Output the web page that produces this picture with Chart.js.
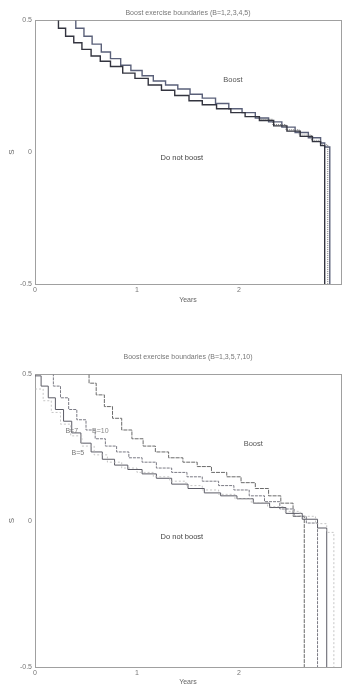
<!DOCTYPE html>
<html>
<head>
<meta charset="utf-8">
<script src="https://cdn.jsdelivr.net/npm/chart.js@4/dist/chart.umd.min.js"></script>
<style>
  html, body { margin: 0; padding: 0; background: #fff; }
  body { width: 347px; height: 687px; position: relative; overflow: hidden; }
  canvas { position: absolute; left: 0; }
  #top { top: 0; }
  #bottom { top: 345px; }
</style>
</head>
<body>
<canvas id="top" width="347" height="305"></canvas>
<canvas id="bottom" width="347" height="342"></canvas>
<script>
// axes
const yearTicks = [0, 1, 2];
const sTicks = [-0.5, 0, 0.5];

// chart 1 : B = 1..5 (the curves mostly sit on top of each other)
const lowT = [0.17, 0.23, 0.30, 0.38, 0.46, 0.55, 0.64, 0.74, 0.86, 0.98, 1.11, 1.24, 1.37, 1.51, 1.64, 1.78, 1.92, 2.06, 2.20, 2.34, 2.47, 2.60, 2.72, 2.80, 2.84];
const lowS = [0.51, 0.47, 0.44, 0.415, 0.39, 0.365, 0.345, 0.325, 0.30, 0.28, 0.255, 0.235, 0.215, 0.195, 0.18, 0.165, 0.15, 0.135, 0.12, 0.10, 0.08, 0.06, 0.04, 0.025, -0.5];
const midT = [2.20, 2.33, 2.46, 2.59, 2.71, 2.80, 2.87];
const midS = [0.125, 0.105, 0.085, 0.065, 0.045, 0.028, -0.5];
const highT = [0.33, 0.40, 0.48, 0.56, 0.65, 0.74, 0.84, 0.94, 1.05, 1.16, 1.28, 1.40, 1.52, 1.64, 1.77, 1.90, 2.03, 2.16, 2.29, 2.42, 2.55, 2.68, 2.80, 2.84, 2.89];
const highS = [0.51, 0.47, 0.44, 0.41, 0.38, 0.355, 0.33, 0.31, 0.29, 0.27, 0.255, 0.24, 0.22, 0.205, 0.185, 0.165, 0.15, 0.13, 0.115, 0.095, 0.075, 0.055, 0.035, 0.02, -0.5];

// chart 2 : B = 3, 5, 7, 10
const b3T = [0.00, 0.08, 0.16, 0.25, 0.35, 0.46, 0.58, 0.71, 0.85, 1.00, 1.16, 1.32, 1.48, 1.64, 1.80, 1.96, 2.12, 2.28, 2.44, 2.60, 2.75, 2.86, 2.93];
const b3S = [0.45, 0.41, 0.37, 0.33, 0.29, 0.255, 0.225, 0.20, 0.18, 0.165, 0.15, 0.135, 0.12, 0.105, 0.09, 0.075, 0.062, 0.048, 0.032, 0.015, -0.01, -0.04, -0.5];
const b5T = [0.00, 0.06, 0.13, 0.20, 0.28, 0.36, 0.45, 0.55, 0.66, 0.78, 0.91, 1.05, 1.19, 1.34, 1.50, 1.66, 1.82, 1.98, 2.14, 2.30, 2.46, 2.62, 2.77, 2.86];
const b5S = [0.495, 0.46, 0.42, 0.38, 0.34, 0.30, 0.265, 0.235, 0.21, 0.19, 0.175, 0.16, 0.145, 0.125, 0.11, 0.095, 0.085, 0.075, 0.06, 0.045, 0.025, 0.005, -0.025, -0.5];
const b7T = [0.12, 0.18, 0.25, 0.33, 0.41, 0.50, 0.59, 0.69, 0.80, 0.92, 1.05, 1.19, 1.34, 1.49, 1.64, 1.80, 1.95, 2.10, 2.25, 2.40, 2.54, 2.66, 2.77];
const b7S = [0.51, 0.46, 0.42, 0.38, 0.345, 0.31, 0.28, 0.255, 0.235, 0.215, 0.20, 0.18, 0.165, 0.15, 0.135, 0.12, 0.105, 0.085, 0.065, 0.04, 0.015, -0.008, -0.5];
const b10T = [0.46, 0.53, 0.60, 0.68, 0.76, 0.85, 0.95, 1.06, 1.18, 1.31, 1.45, 1.59, 1.73, 1.88, 2.02, 2.16, 2.29, 2.41, 2.53, 2.64];
const b10S = [0.51, 0.47, 0.43, 0.39, 0.35, 0.31, 0.28, 0.255, 0.235, 0.215, 0.20, 0.185, 0.165, 0.15, 0.13, 0.11, 0.085, 0.06, 0.015, -0.5];

const FONT = '"Liberation Sans", Arial, sans-serif';

const pts = (t, s) => t.map((v, i) => ({ x: v, y: s[i] }));

function curve(t, s, color, width, dash) {
    return {
        data: pts(t, s),
        borderColor: color,
        borderWidth: width,
        borderDash: dash || [],
        pointRadius: 0,
        stepped: true,
        fill: false,
    };
}

// texts placed in data coordinates
const notesPlugin = {
    id: 'notes',
    afterDatasetsDraw(chart, args, opts) {
        const { ctx, scales: { x, y } } = chart;
        ctx.save();
        ctx.textAlign = 'center';
        ctx.textBaseline = 'middle';
        (opts.items || []).forEach(n => {
            ctx.font = n.size + 'px ' + FONT;
            ctx.fillStyle = n.color;
            ctx.fillText(n.text, x.getPixelForValue(n.t), y.getPixelForValue(n.s));
        });
        ctx.restore();
    }
};

function makeOptions(title, titlePad, xHeight, yearsPad, notes) {
    const dotted = { display: true, color: '#a0a0a0', width: 1, dash: [1, 2] };
    return {
        responsive: false,
        animation: false,
        layout: { padding: { left: 0, right: 6, top: 0, bottom: 0 } },
        plugins: {
            legend: { display: false },
            tooltip: { enabled: false },
            title: {
                display: true,
                text: title,
                fullSize: false,
                color: '#777',
                font: { family: FONT, size: 7, weight: 'normal' },
                padding: titlePad,
            },
            notes: { items: notes },
        },
        scales: {
            x: {
                type: 'linear',
                min: 0, max: 3,
                afterBuildTicks: s => { s.ticks = yearTicks.map(v => ({ value: v })); },
                afterFit: s => { s.height = xHeight; },
                grid: { display: false, drawTicks: false },
                border: dotted,
                ticks: { color: '#777', padding: 2, font: { family: FONT, size: 7 } },
                title: { display: true, text: 'Years', color: '#666', font: { family: FONT, size: 7 }, padding: { top: 0, bottom: yearsPad } },
            },
            x2: {
                type: 'linear', position: 'top', min: 0, max: 3,
                afterFit: s => { s.height = 0; },
                grid: { display: false, drawTicks: false },
                border: dotted,
                ticks: { display: false },
            },
            y: {
                type: 'linear',
                min: -0.5, max: 0.5,
                afterBuildTicks: s => { s.ticks = sTicks.map(v => ({ value: v })); },
                afterFit: s => { s.width = 35; },
                grid: { display: false, drawTicks: false },
                border: dotted,
                ticks: { color: '#777', padding: 3, font: { family: FONT, size: 7 } },
                title: { display: true, text: 'S', color: '#666', font: { family: FONT, size: 8 }, padding: { top: 7, bottom: 0 } },
            },
            y2: {
                type: 'linear', position: 'right', min: -0.5, max: 0.5,
                afterFit: s => { s.width = 0; },
                grid: { display: false, drawTicks: false },
                border: dotted,
                ticks: { display: false },
            },
        },
    };
}

new Chart(document.getElementById('top'), {
    type: 'line',
    data: {
        datasets: [
            curve(lowT, lowS, '#33343f', 1.4),
            curve(midT, midS, '#777', 1, [1, 1]),
            curve(highT, highS, '#5a6079', 1.4),
        ]
    },
    options: makeOptions('Boost exercise boundaries (B=1,2,3,4,5)', { top: 9, bottom: 3 }, 21, 1, [
        { text: 'Boost', t: 1.94, s: 0.273, size: 7.5, color: '#555' },
        { text: 'Do not boost', t: 1.44, s: -0.023, size: 7.5, color: '#444' },
    ]),
    plugins: [notesPlugin],
});

new Chart(document.getElementById('bottom'), {
    type: 'line',
    data: {
        datasets: [
            curve(b3T, b3S, '#b8b8b8', 0.8, [2, 2]),
            curve(b5T, b5S, '#5c5c66', 1),
            curve(b7T, b7S, '#7a7a84', 1, [3, 1]),
            curve(b10T, b10S, '#6a6a6a', 1, [4, 1]),
        ]
    },
    options: makeOptions('Boost exercise boundaries (B=1,3,5,7,10)', { top: 8, bottom: 13 }, 20, 1, [
        { text: 'B=7', t: 0.36, s: 0.308, size: 7, color: '#777' },
        { text: 'B=10', t: 0.64, s: 0.308, size: 7, color: '#888' },
        { text: 'B=5', t: 0.42, s: 0.23, size: 7, color: '#777' },
        { text: 'Boost', t: 2.14, s: 0.264, size: 7.5, color: '#555' },
        { text: 'Do not boost', t: 1.44, s: -0.056, size: 7.5, color: '#444' },
    ]),
    plugins: [notesPlugin],
});
</script>
</body>
</html>
